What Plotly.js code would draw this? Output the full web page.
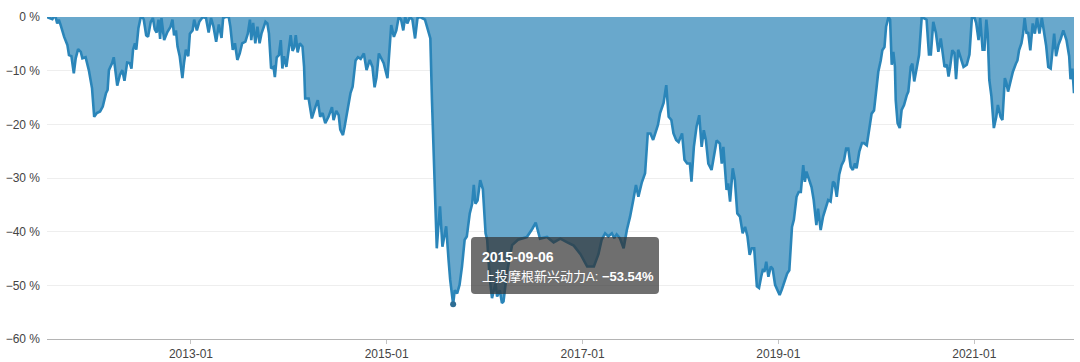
<!DOCTYPE html>
<html>
<head>
<meta charset="utf-8">
<script src="https://cdn.plot.ly/plotly-3.0.1.min.js"></script>
<style>html,body{margin:0;padding:0;background:#fff}#chart{width:1080px;height:362px}</style>
</head>
<body>
<div id="chart"></div>
<script>
const seriesName = "上投摩根新兴动力A";
const dates = [
"2011-07-14","2011-08-03","2011-08-08","2011-08-15","2011-08-21","2011-08-27","2011-09-03","2011-09-16","2011-09-28","2011-10-04",
"2011-10-13","2011-10-22","2011-10-29","2011-11-07","2011-11-17","2011-11-23","2011-12-05","2011-12-17","2011-12-29","2012-01-06",
"2012-01-16","2012-01-28","2012-02-07","2012-02-19","2012-02-25","2012-03-01","2012-03-13","2012-03-19","2012-04-01","2012-04-11",
"2012-04-20","2012-04-28","2012-05-08","2012-05-18","2012-05-24","2012-05-30","2012-06-06","2012-06-11","2012-06-19","2012-06-27",
"2012-07-04","2012-07-09","2012-07-18","2012-07-25","2012-08-04","2012-08-12","2012-08-19","2012-08-26","2012-09-02","2012-09-08",
"2012-09-13","2012-09-23","2012-10-05","2012-10-17","2012-10-24","2012-10-30","2012-11-06","2012-11-12","2012-11-20","2012-11-30",
"2012-12-06","2012-12-13","2012-12-22","2012-12-28","2013-01-07","2013-01-13","2013-01-23","2013-02-01","2013-02-14","2013-02-26",
"2013-03-08","2013-03-17","2013-03-26","2013-04-05","2013-04-15","2013-04-25","2013-05-01","2013-05-10","2013-05-22","2013-05-28",
"2013-06-06","2013-06-14","2013-06-23","2013-07-02","2013-07-11","2013-07-23","2013-08-01","2013-08-09","2013-08-14","2013-08-21",
"2013-08-29","2013-09-06","2013-09-14","2013-09-21","2013-09-30","2013-10-06","2013-10-13","2013-10-19","2013-10-27","2013-11-05",
"2013-11-10","2013-11-17","2013-11-25","2013-12-02","2013-12-08","2013-12-14","2013-12-23","2014-01-02","2014-01-08","2014-01-15",
"2014-01-21","2014-01-27","2014-02-03","2014-02-11","2014-02-21","2014-02-27","2014-03-03","2014-03-16","2014-03-28","2014-04-10",
"2014-04-19","2014-04-28","2014-05-07","2014-05-17","2014-05-29","2014-06-11","2014-06-17","2014-06-27","2014-07-06","2014-07-12",
"2014-07-22","2014-07-28","2014-08-07","2014-08-19","2014-08-27","2014-09-07","2014-09-16","2014-09-26","2014-10-08","2014-10-18",
"2014-10-30","2014-11-09","2014-11-17","2014-11-24","2014-12-03","2014-12-11","2014-12-21","2015-01-04","2015-01-12","2015-01-18",
"2015-01-28","2015-02-06","2015-02-15","2015-02-24","2015-03-04","2015-03-11","2015-03-19","2015-03-29","2015-04-07","2015-04-17",
"2015-04-26","2015-05-06","2015-05-24","2015-06-06","2015-06-13","2015-06-19","2015-06-27","2015-07-07","2015-07-13","2015-07-19",
"2015-07-28","2015-08-04","2015-08-11","2015-08-20","2015-08-26","2015-09-06","2015-09-12","2015-09-21","2015-09-30","2015-10-09",
"2015-10-19","2015-10-27","2015-11-07","2015-11-16","2015-11-22","2015-11-28","2015-12-06","2015-12-16","2015-12-26","2016-01-05",
"2016-01-11","2016-01-21","2016-01-29","2016-02-05","2016-02-11","2016-02-17","2016-02-27","2016-03-06","2016-03-12","2016-03-25",
"2016-04-13","2016-05-05","2016-06-07","2016-06-27","2016-07-10","2016-07-26","2016-08-21","2016-09-15","2016-10-10","2016-11-05",
"2016-11-29","2016-12-24","2017-01-18","2017-02-12","2017-03-01","2017-03-13","2017-03-26","2017-04-07","2017-04-20","2017-04-29",
"2017-05-08","2017-05-20","2017-06-03","2017-06-15","2017-06-27","2017-07-09","2017-07-19","2017-07-28","2017-08-10","2017-08-22",
"2017-09-01","2017-09-11","2017-09-21","2017-09-29","2017-10-09","2017-10-17","2017-10-30","2017-11-09","2017-11-18","2017-11-28",
"2017-12-06","2017-12-16","2017-12-25","2018-01-07","2018-01-16","2018-01-26","2018-02-05","2018-02-11","2018-02-20","2018-03-02",
"2018-03-12","2018-03-21","2018-03-29","2018-04-06","2018-04-15","2018-04-27","2018-05-06","2018-05-16","2018-05-28","2018-06-04",
"2018-06-10","2018-06-16","2018-06-22","2018-06-28","2018-07-05","2018-07-15","2018-07-23","2018-08-01","2018-08-11","2018-08-21",
"2018-08-30","2018-09-08","2018-09-16","2018-09-24","2018-10-03","2018-10-13","2018-10-21","2018-10-29","2018-11-05","2018-11-10",
"2018-11-17","2018-11-25","2018-12-04","2018-12-11","2018-12-20","2018-12-28","2019-01-06","2019-01-14","2019-01-23","2019-02-03",
"2019-02-11","2019-02-21","2019-02-28","2019-03-10","2019-03-18","2019-03-26","2019-04-04","2019-04-10","2019-04-16","2019-04-26",
"2019-05-05","2019-05-13","2019-05-23","2019-05-29","2019-06-08","2019-06-17","2019-06-27","2019-07-06","2019-07-15","2019-07-24",
"2019-07-30","2019-08-07","2019-08-16","2019-08-25","2019-09-03","2019-09-11","2019-09-19","2019-09-28","2019-10-06","2019-10-14",
"2019-10-20","2019-10-30","2019-11-09","2019-11-17","2019-11-27","2019-12-03","2019-12-09","2019-12-15","2019-12-24","2020-01-01",
"2020-01-09","2020-01-18","2020-01-24","2020-02-01","2020-02-07","2020-02-16","2020-02-22","2020-02-28","2020-03-05","2020-03-11",
"2020-03-14","2020-03-21","2020-03-29","2020-04-05","2020-04-14","2020-04-24","2020-04-30","2020-05-09","2020-05-15","2020-05-22",
"2020-05-31","2020-06-09","2020-06-19","2020-06-28","2020-07-07","2020-07-16","2020-07-23","2020-08-01","2020-08-11","2020-08-20",
"2020-08-29","2020-09-06","2020-09-12","2020-09-21","2020-09-27","2020-10-03","2020-10-11","2020-10-19","2020-10-25","2020-11-02",
"2020-11-12","2020-11-22","2020-12-04","2020-12-14","2020-12-23","2021-01-01","2021-01-08","2021-01-17","2021-01-23","2021-02-01",
"2021-02-08","2021-02-15","2021-02-20","2021-02-26","2021-03-06","2021-03-15","2021-03-24","2021-03-30","2021-04-09","2021-04-16",
"2021-04-25","2021-05-01","2021-05-07","2021-05-16","2021-05-25","2021-06-05","2021-06-11","2021-06-17","2021-06-26","2021-07-02",
"2021-07-08","2021-07-15","2021-07-21","2021-07-29","2021-08-07","2021-08-15","2021-08-23","2021-09-01","2021-09-10","2021-09-16",
"2021-09-26","2021-10-04","2021-10-13","2021-10-20","2021-10-26","2021-11-02","2021-11-11","2021-11-20","2021-11-29","2021-12-11",
"2021-12-21","2021-12-26","2022-01-02","2022-01-08"
];
const drawdown = [
0,-0.4,0,0,-1.2,-0.5,-1.5,-3.7,-5.2,-7.1,
-7.3,-10.5,-7.7,-6,-6.5,-7.7,-7.5,-9.9,-13.3,-18.6,
-17.9,-17.6,-16.7,-14.2,-13.6,-9.9,-8.6,-7.5,-12.8,-10.8,
-9.9,-11.9,-8.5,-8.6,-9.6,-6.1,-4.9,-6.1,-2.1,-0.2,
0,-0.5,-3.4,-3.7,-0.9,-0.2,-2.3,-2.9,-0.5,-4.1,
-0.2,-4.3,-2.8,-1.8,-0.5,-3.4,-2.5,-5.5,-7.3,-11.4,
-8.6,-6.1,-7.3,-3.1,-2.5,-0.5,-2.5,-0.9,0,-0.2,
-2.9,-0.2,-1.8,-4.6,-1.4,-3.9,-0.2,0,0,-1.8,
-6.1,-4.9,-8,-6.8,-4.9,-4.6,-3.1,-0.5,-4.3,-1.1,
-4.9,-1.8,-4.9,-3.1,-1.8,-0.9,-1.2,-3.1,-9.6,-9.3,
-11.2,-7.5,-7.1,-4.3,-9.6,-7.3,-9.3,-5.5,-3.4,-6.3,
-5.7,-3.4,-6.6,-4.9,-5.5,-9.3,-15.2,-15.2,-18.9,-16.8,
-15.5,-18.6,-17.9,-19.8,-18.6,-16.8,-19.2,-17.5,-18.3,-21,
-22,-20.5,-17.3,-14.2,-13,-8.1,-7.5,-7.8,-6.8,-9.9,
-8,-9.3,-13.1,-11.3,-6.8,-7.7,-8.6,-11.4,-5.5,-1.5,
-3.7,-2.5,0,-0.5,-2.5,0,-1.2,0,-0.5,-4,
-0.2,0,-0.5,-2.5,-4,-15.5,-29.1,-43.1,-38.9,-35.3,
-42.8,-41.2,-39,-45.3,-49,-53.54,-50.9,-51.5,-49.9,-46.5,
-41.5,-40.9,-36.6,-34.8,-31.3,-34.8,-34.2,-30.4,-32.1,-40.3,
-41.5,-49,-52.4,-50.9,-49.7,-52.1,-50.9,-53.3,-53.0,-47.5,
-42.5,-41.5,-41,-39.5,-38.3,-41.3,-41,-42,-41.3,-42,
-42.6,-44.2,-46.5,-46.5,-44.2,-41.5,-40.3,-40.9,-40.3,-41.2,
-40.5,-41.2,-43.1,-39.7,-37.2,-34.1,-31.3,-33.5,-30.8,-29.1,
-21.7,-21.7,-22.9,-21.7,-20.1,-17.9,-16,-12.7,-18.6,-19.2,
-21.7,-22.9,-23.3,-21.7,-26.6,-27.3,-27.3,-30.7,-24.2,-20.4,
-18.3,-24.2,-21.1,-23.0,-27.3,-28.5,-25.9,-23,-23.6,-27.3,
-24.2,-27.9,-32.2,-31,-34.4,-28.2,-30.4,-36.6,-37.2,-40.3,
-39.1,-40.9,-44.3,-43.1,-43.1,-50.2,-50.5,-48.4,-46.9,-47.5,
-45.6,-48.4,-46.5,-46.9,-49.9,-50.8,-51.8,-50.8,-49.6,-47.8,
-47.2,-39.1,-37.8,-33.5,-32.6,-32.6,-27.6,-30.7,-28.8,-30.4,
-31.7,-34.1,-38.8,-35.7,-39.7,-37.2,-35.7,-34.1,-34.4,-30.7,
-31,-33.5,-29.4,-27.6,-26.7,-24.5,-24.5,-27.9,-28.5,-27.3,
-28.2,-25.1,-23.5,-23.5,-23.9,-21.7,-19.3,-18,-17.4,-14.2,
-10.2,-8.1,-6.2,-5.6,-1.8,0,-0.5,-8.9,-6.5,-9.3,
-15.5,-19.8,-20.7,-17.3,-16.4,-14.6,-13.9,-9.3,-8.7,-12,
-9.3,-7.1,0,-0.2,-0.5,-7,-7,-0.9,-3,-6.5,
-4.0,-7,-9.3,-8.9,-11.1,-9.3,-6.2,-6.7,-11.6,-6.1,
-7.5,-9.3,-8.9,-7,-0.2,0,-1.1,-4.3,-0.2,-6.1,
-6.1,-0.5,-3.1,-11.7,-14.8,-20.7,-18.6,-16.4,-18.6,-19.2,
-11.4,-12.3,-13.9,-12.1,-10.2,-8.7,-8.1,-6.2,-4.9,-3.1,
-0.2,-3.1,-2.8,-6.2,-1.2,-3.1,-0.2,-3.1,-0.2,-2.1,
-5.3,-9.3,-9.6,-6.2,-3.1,-7.3,-5.2,-4,-2.5,-4.3,
-7.3,-11.6,-9.6,-14.2
];
const yTicks = [0,-10,-20,-30,-40,-50,-60];
const highlightDate = "2015-09-06";

const W=1080,H=362,L=47,R=6,T=17,B=23;
const pw=W-L-R, ph=H-T-B;
const fx=p=>(p-L)/pw, fy=p=>(H-B-p)/ph;
function roundRect(x0,y0,x1,y1,r){
  return `M${fx(x0+r)},${fy(y0)} L${fx(x1-r)},${fy(y0)} Q${fx(x1)},${fy(y0)} ${fx(x1)},${fy(y0+r)} `+
         `L${fx(x1)},${fy(y1-r)} Q${fx(x1)},${fy(y1)} ${fx(x1-r)},${fy(y1)} `+
         `L${fx(x0+r)},${fy(y1)} Q${fx(x0)},${fy(y1)} ${fx(x0)},${fy(y1-r)} `+
         `L${fx(x0)},${fy(y0+r)} Q${fx(x0)},${fy(y0)} ${fx(x0+r)},${fy(y0)} Z`;
}
const hi = dates.indexOf(highlightDate);
const hiVal = drawdown[hi];
const fmtVal = (hiVal<0?"\u2212":"")+Math.abs(hiVal).toFixed(2)+"%";

const traces = [
  {x:dates,y:drawdown,type:'scatter',mode:'lines',fill:'tozeroy',
   fillcolor:'#69a8cc',line:{color:'#2a85b9',width:2.6},hoverinfo:'skip'},
  {x:[dates[hi]],y:[hiVal],type:'scatter',mode:'markers',
   marker:{color:'#2d6d94',size:6},hoverinfo:'skip'}
];
const fontStack = '"Liberation Sans","Noto Sans CJK SC",Arial,sans-serif';
const layout = {
  width:W,height:H,margin:{l:L,r:R,t:T,b:B},
  paper_bgcolor:'#fff',plot_bgcolor:'#fff',showlegend:false,hovermode:false,
  font:{family:fontStack,size:12,color:'#444'},
  xaxis:{type:'date',range:[dates[0],dates[dates.length-1]],
    tick0:'2013-01-01',dtick:'M24',tickformat:'%Y-%m',
    showgrid:false,zeroline:false,showline:true,linecolor:'#b4b4b4',linewidth:1,
    ticks:'outside',ticklen:4,tickcolor:'#c4c4c4',tickfont:{size:12,color:'#444'}},
  yaxis:{range:[-60,0],tickvals:yTicks,ticktext:yTicks.map(v=>(v<0?'\u2212':'')+Math.abs(v)+' %'),
    showgrid:true,gridcolor:'#eeeeee',gridwidth:1,zeroline:false,showline:false,
    ticks:'',ticklabelstandoff:6,tickfont:{size:12,color:'#444'}},
  shapes:[{type:'path',xref:'paper',yref:'paper',layer:'above',
    path:roundRect(471,237,659,294,4),fillcolor:'rgba(50,50,50,0.7)',line:{width:0}}],
  annotations:[
    {xref:'paper',yref:'paper',x:fx(480),y:fy(256.5),xanchor:'left',yanchor:'middle',
     align:'left',showarrow:false,font:{family:fontStack,size:14,color:'#fff'},
     text:`<b>${highlightDate}</b>`},
    {xref:'paper',yref:'paper',x:fx(480),y:fy(276),xanchor:'left',yanchor:'middle',
     align:'left',showarrow:false,font:{family:fontStack,size:13,color:'#fff'},
     text:`${seriesName}: <b>${fmtVal}</b>`}
  ]
};
Plotly.newPlot('chart',traces,layout,{displayModeBar:false,staticPlot:true});
</script>
</body>
</html>
